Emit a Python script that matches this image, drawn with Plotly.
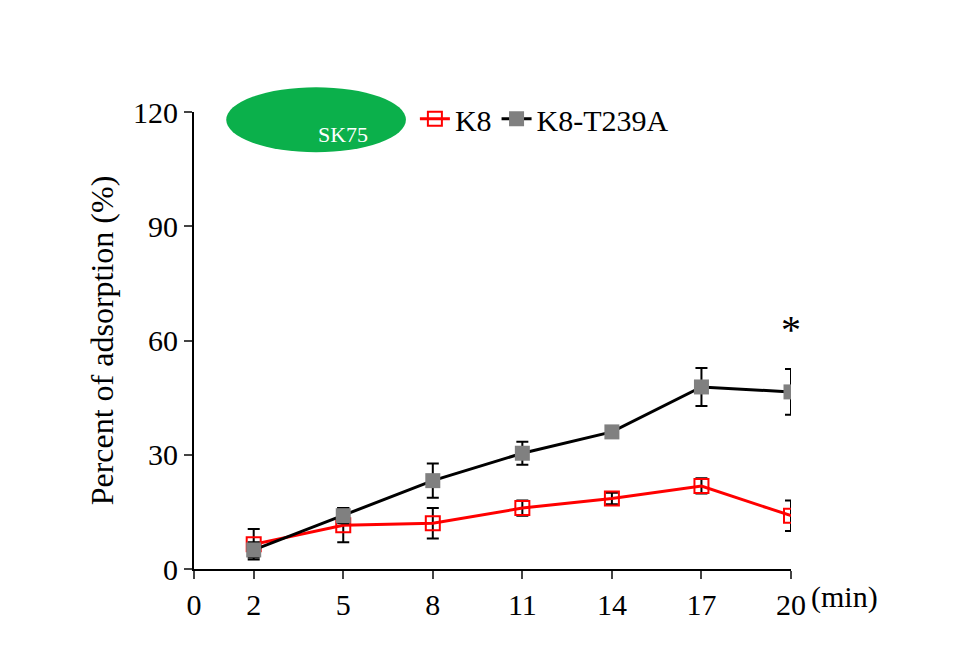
import plotly.graph_objects as go

minutes = [2, 5, 8, 11, 14, 17, 20]
k8 = [6.5, 11.5, 12.0, 16.0, 18.5, 21.8, 14.0]
k8_err = [4.0, 4.5, 4.0, 2.0, 1.5, 2.0, 4.0]
t239a = [5.0, 14.0, 23.2, 30.4, 36.0, 47.8, 46.5]
t239a_err = [2.0, 2.0, 4.5, 3.0, 1.0, 5.0, 6.0]
tick_vals = [0, 2, 5, 8, 11, 14, 17, 20]

font = "Liberation Serif"

fig = go.Figure()
fig.add_trace(go.Scatter(
    x=minutes, y=k8, name="K8", mode="lines+markers",
    line=dict(color="#ff0000", width=3),
    marker=dict(symbol="square-open", size=14, color="#ff0000", line=dict(width=2)),
    error_y=dict(type="data", array=k8_err, color="black", thickness=2, width=6),
))
fig.add_trace(go.Scatter(
    x=minutes, y=t239a, name="K8-T239A", mode="lines+markers",
    line=dict(color="black", width=3),
    marker=dict(symbol="square", size=15, color="#808080"),
    error_y=dict(type="data", array=t239a_err, color="black", thickness=2, width=6),
))

# green SK75 badge
fig.add_shape(type="circle", xref="paper", yref="paper",
              x0=0.054, x1=0.355, y0=0.912, y1=1.054,
              fillcolor="#0bb04b", line=dict(width=0))
fig.add_annotation(xref="paper", yref="paper", x=0.2045, y=0.983, text="SK75",
                   showarrow=False, font=dict(family=font, size=22, color="white"))
fig.add_annotation(x=20, y=63, text="*", showarrow=False,
                   font=dict(family=font, size=40, color="black"))
fig.add_annotation(xref="paper", yref="paper", x=1.09, y=-0.02, xanchor="center",
                   yanchor="top", text="(min)", showarrow=False,
                   font=dict(family=font, size=30, color="black"))

fig.update_layout(
    width=957, height=646,
    margin=dict(l=186, r=174, t=104, b=85),
    plot_bgcolor="white", paper_bgcolor="white",
    font=dict(family=font, size=30, color="black"),
    showlegend=True,
    legend=dict(orientation="h", x=0.37, y=0.985, yanchor="middle",
                font=dict(family=font, size=30), bgcolor="rgba(0,0,0,0)",
                tracegroupgap=0),
    xaxis=dict(range=[0, 20], tickvals=tick_vals, showline=True, linecolor="black",
               linewidth=2, ticks="outside", ticklen=8, tickwidth=2,
               showgrid=False, zeroline=False, automargin=False,
               tickfont=dict(size=30)),
    yaxis=dict(range=[0, 120], tickvals=[0, 30, 60, 90, 120], showline=True,
               linecolor="black", linewidth=2, ticks="outside", ticklen=8,
               tickwidth=2, showgrid=False, zeroline=False, automargin=False,
               tickfont=dict(size=30),
               title=dict(text="Percent of adsorption (%)", font=dict(size=32),
                          standoff=10)),
)

fig.write_html("out.html")
